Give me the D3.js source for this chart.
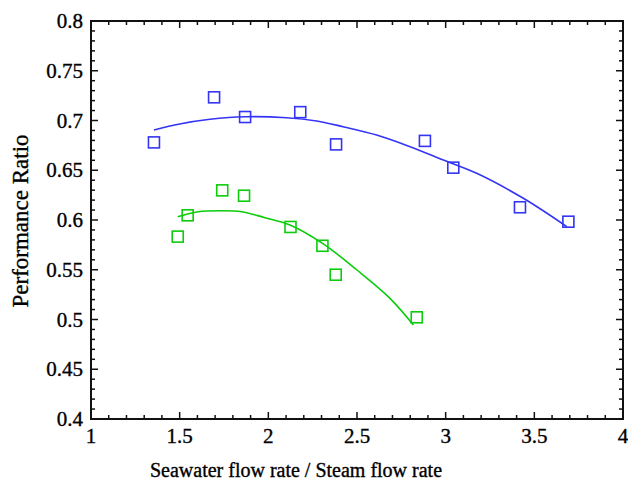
<!DOCTYPE html>
<html>
<head>
<meta charset="utf-8">
<script src="https://cdn.jsdelivr.net/npm/d3@7"></script>
<style>
  html, body { margin: 0; padding: 0; background: #fff; }
  svg { display: block; }
  text { font-family: "Liberation Serif", "Times New Roman", serif; fill: #000; stroke: #000; stroke-width: 0.35px; }
</style>
</head>
<body>
<script>
// ---- Data ----
const xTicks = [1, 1.5, 2, 2.5, 3, 3.5, 4];
const xTickLabels = ["1", "1.5", "2", "2.5", "3", "3.5", "4"];
const yTicks = [0.4, 0.45, 0.5, 0.55, 0.6, 0.65, 0.7, 0.75, 0.8];
const yTickLabels = ["0.4", "0.45", "0.5", "0.55", "0.6", "0.65", "0.7", "0.75", "0.8"];

// Blue series: measured points
const blueX = [1.355, 1.694, 1.869, 2.180, 2.382, 2.883, 3.043, 3.419, 3.692];
const blueY = [0.678, 0.7233, 0.7035, 0.7084, 0.676, 0.6795, 0.6526, 0.6128, 0.5983];
// Blue fitted curve
const blueFitX = [1.355, 1.50, 1.671, 1.870, 2.104, 2.273, 2.421, 2.611, 2.799, 2.987, 3.175, 3.438, 3.683];
const blueFitY = [0.6905, 0.6965, 0.7012, 0.7038, 0.7028, 0.6995, 0.6938, 0.6854, 0.6737, 0.6603, 0.6469, 0.6218, 0.5933];

// Green series: measured points
const greenX = [1.489, 1.545, 1.740, 1.863, 2.125, 2.305, 2.380, 2.837];
const greenY = [0.5833, 0.6047, 0.6298, 0.6244, 0.5930, 0.5741, 0.5450, 0.5022];
// Green fitted curve
const greenFitX = [1.489, 1.605, 1.730, 1.850, 1.981, 2.122, 2.310, 2.498, 2.686, 2.818];
const greenFitY = [0.6033, 0.6083, 0.6093, 0.6083, 0.6023, 0.5950, 0.5760, 0.5500, 0.5213, 0.4945];

const xTitle = "Seawater flow rate / Steam flow rate";
const yTitle = "Performance Ratio";

// ---- Layout ----
const W = 628, H = 482;
const L = 91, R = 623, T = 21, B = 419;
const blue = "#3434f4", green = "#0ccc0c";

const svg = d3.select("body").append("svg").attr("width", W).attr("height", H);

const x = d3.scaleLinear().domain([1, 4]).range([L, R]);
const y = d3.scaleLinear().domain([0.4, 0.8]).range([B, T]);

// minor ticks
const xMinor = d3.range(1, 4.0001, 0.1).map(v => +v.toFixed(2));
const yMinor = d3.range(0.4, 0.8001, 0.01).map(v => +v.toFixed(3));
const isMajorX = v => Math.abs(v * 2 - Math.round(v * 2)) < 1e-6;
const isMajorY = v => Math.abs(v * 20 - Math.round(v * 20)) < 1e-6;

const tickG = svg.append("g").attr("stroke", "#111").attr("stroke-width", 1.5);
xMinor.forEach(v => {
  const len = isMajorX(v) ? 7 : 4;
  const px = x(v);
  tickG.append("line").attr("x1", px).attr("x2", px).attr("y1", B).attr("y2", B - len);
  tickG.append("line").attr("x1", px).attr("x2", px).attr("y1", T).attr("y2", T + len);
});
yMinor.forEach(v => {
  const len = isMajorY(v) ? 7 : 4;
  const py = y(v);
  tickG.append("line").attr("x1", L).attr("x2", L + len).attr("y1", py).attr("y2", py);
  tickG.append("line").attr("x1", R).attr("x2", R - len).attr("y1", py).attr("y2", py);
});

// frame
svg.append("rect").attr("x", L).attr("y", T).attr("width", R - L).attr("height", B - T)
  .attr("fill", "none").attr("stroke", "#111").attr("stroke-width", 2);

// tick labels
svg.append("g").selectAll("text").data(xTicks).join("text")
  .attr("x", d => x(d)).attr("y", 443).attr("text-anchor", "middle")
  .attr("font-size", 21).text((d, i) => xTickLabels[i]);
svg.append("g").selectAll("text").data(yTicks).join("text")
  .attr("x", 83).attr("y", d => y(d) + 7).attr("text-anchor", "end")
  .attr("font-size", 21).text((d, i) => yTickLabels[i]);

// titles
svg.append("text").attr("x", 296).attr("y", 477).attr("text-anchor", "middle")
  .attr("font-size", 20).text(xTitle);
svg.append("text").attr("transform", "translate(28,221) rotate(-90)")
  .attr("text-anchor", "middle").attr("font-size", 23).text(yTitle);

// curves
const line = d3.line().x(d => x(d[0])).y(d => y(d[1])).curve(d3.curveCatmullRom.alpha(0.5));
svg.append("path").datum(blueFitX.map((v, i) => [v, blueFitY[i]]))
  .attr("d", line).attr("fill", "none").attr("stroke", blue).attr("stroke-width", 1.6);
svg.append("path").datum(greenFitX.map((v, i) => [v, greenFitY[i]]))
  .attr("d", line).attr("fill", "none").attr("stroke", green).attr("stroke-width", 1.6);

// markers
const S = 11;
function squares(xs, ys, color) {
  svg.append("g").selectAll("rect").data(xs.map((v, i) => [v, ys[i]])).join("rect")
    .attr("x", d => x(d[0]) - S / 2).attr("y", d => y(d[1]) - S / 2)
    .attr("width", S).attr("height", S)
    .attr("fill", "none").attr("stroke", color).attr("stroke-width", 1.6);
}
squares(blueX, blueY, blue);
squares(greenX, greenY, green);
</script>
</body>
</html>
